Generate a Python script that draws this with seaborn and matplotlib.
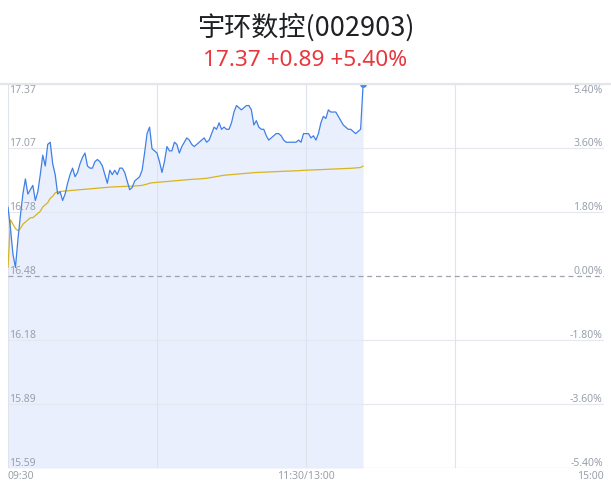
import numpy as np
import pandas as pd
import matplotlib
matplotlib.use("Agg")
import matplotlib.pyplot as plt
import matplotlib.transforms as mtransforms
from matplotlib.lines import Line2D
import seaborn as sns

# ---------------- data ----------------
title_text = "宇环数控(002903)"
subtitle_text = "17.37 +0.89 +5.40%"
prev_close = 16.48
limit_pct = 5.40

price = [
    16.80, 16.70, 16.58, 16.52, 16.65, 16.76, 16.86, 16.93, 16.86, 16.88,
    16.90, 16.83, 16.87, 16.95, 17.04, 16.99, 17.09, 17.10, 17.00, 16.95,
    16.86, 16.87, 16.83, 16.86, 16.91, 16.95, 16.98, 16.94, 16.96, 17.00,
    17.03, 17.05, 16.99, 16.98, 16.98, 17.01, 17.02, 17.01, 16.99, 16.95,
    16.91, 16.97, 16.95, 16.97, 16.95, 16.98, 16.98, 16.96, 16.92, 16.88,
    16.89, 16.92, 16.93, 16.94, 16.97, 17.05, 17.14, 17.17, 17.07, 17.06,
    17.05, 17.01, 16.96, 17.01, 17.08, 17.06, 17.06, 17.10, 17.09, 17.05,
    17.08, 17.10, 17.12, 17.11, 17.09, 17.08, 17.09, 17.10, 17.11, 17.12,
    17.10, 17.11, 17.14, 17.17, 17.16, 17.19, 17.16, 17.17, 17.16, 17.16,
    17.19, 17.24, 17.27, 17.26, 17.25, 17.26, 17.27, 17.27, 17.25, 17.18,
    17.20, 17.17, 17.16, 17.16, 17.13, 17.11, 17.12, 17.13, 17.14, 17.14,
    17.13, 17.11, 17.10, 17.10, 17.10, 17.10, 17.10, 17.11, 17.10, 17.14,
    17.14, 17.14, 17.12, 17.13, 17.11, 17.14, 17.19, 17.22, 17.21, 17.25,
    17.24, 17.24, 17.24, 17.22, 17.20, 17.18, 17.17, 17.16, 17.16, 17.15,
    17.14, 17.15, 17.16, 17.37,
]

avg_price = [
    16.520, 16.740, 16.720, 16.700, 16.690, 16.700, 16.720, 16.730, 16.740, 16.750,
    16.750, 16.760, 16.770, 16.780, 16.800, 16.810, 16.820, 16.840, 16.850, 16.865,
    16.870, 16.872, 16.873, 16.874, 16.875, 16.876, 16.877, 16.878, 16.879, 16.880,
    16.881, 16.882, 16.883, 16.884, 16.885, 16.886, 16.887, 16.888, 16.889, 16.890,
    16.891, 16.892, 16.893, 16.893, 16.894, 16.894, 16.895, 16.895, 16.896, 16.896,
    16.897, 16.897, 16.898, 16.899, 16.900, 16.903, 16.906, 16.910, 16.912, 16.913,
    16.914, 16.915, 16.916, 16.917, 16.918, 16.919, 16.920, 16.921, 16.922, 16.923,
    16.924, 16.925, 16.926, 16.927, 16.928, 16.929, 16.929, 16.930, 16.931, 16.932,
    16.933, 16.935, 16.937, 16.939, 16.941, 16.943, 16.945, 16.947, 16.948, 16.949,
    16.950, 16.951, 16.952, 16.953, 16.954, 16.955, 16.956, 16.957, 16.958, 16.959,
    16.960, 16.960, 16.961, 16.961, 16.962, 16.962, 16.963, 16.963, 16.964, 16.964,
    16.965, 16.965, 16.966, 16.966, 16.967, 16.967, 16.968, 16.968, 16.969, 16.970,
    16.970, 16.971, 16.971, 16.972, 16.972, 16.973, 16.973, 16.974, 16.974, 16.975,
    16.975, 16.976, 16.976, 16.977, 16.977, 16.978, 16.978, 16.979, 16.979, 16.980,
    16.981, 16.982, 16.983, 16.990,
]

total_minutes = 240
x_tick_pos = [0, 120, 240]
x_tick_labels = ["09:30", "11:30/13:00", "15:00"]
grid_x = [0, 60, 120, 180]
pct_levels = [5.40, 3.60, 1.80, 0.00, -1.80, -3.60, -5.40]
price_labels = ["17.37", "17.07", "16.78", "16.48", "16.18", "15.89", "15.59"]
pct_labels = ["5.40%", "3.60%", "1.80%", "0.00%", "-1.80%", "-3.60%", "-5.40%"]

df = pd.DataFrame({"minute": np.arange(len(price)), "price": price, "avg": avg_price})

# ---------------- style ----------------
sns.set_style("white")
plt.rcParams["font.family"] = ["Noto Sans CJK SC", "DejaVu Sans"]

W, H = 611, 492
fig = plt.figure(figsize=(W / 100, H / 100), dpi=100)
ax_left, ax_right, ax_top, ax_bottom = 8, 604, 84, 468
ax = fig.add_axes([ax_left / W, 1 - ax_bottom / H, (ax_right - ax_left) / W, (ax_bottom - ax_top) / H])

ymax = prev_close * (1 + limit_pct / 100)
ymin = prev_close * (1 - limit_pct / 100)
ax.set_xlim(0, total_minutes)
ax.set_ylim(ymin, ymax)

grid_color = "#e6e8ef"
label_color = "#9aa0ab"

# horizontal grid
for p in pct_levels:
    yv = prev_close * (1 + p / 100)
    if abs(p) < 1e-9:
        ax.axhline(yv, color="#9ea3ad", lw=0.9, ls=(0, (4, 3)), zorder=3)
    else:
        ax.axhline(yv, color=grid_color, lw=0.8, zorder=1)
# vertical grid
for gx in grid_x:
    ax.axvline(gx, color="#dfe3ec", lw=0.8, zorder=1)

# area + lines
ax.fill_between(df["minute"], df["price"], ymin, color="#e9effc", lw=0, zorder=0.5)
sns.lineplot(data=df, x="minute", y="avg", ax=ax, color="#d8b51c", lw=0.9, zorder=4)
sns.lineplot(data=df, x="minute", y="price", ax=ax, color="#3f7fe6", lw=0.9, zorder=5)
ax.scatter([df["minute"].iloc[-1]], [df["price"].iloc[-1]], s=24, color="#3d8af7",
           zorder=6, clip_on=True, linewidths=0)

for s in ax.spines.values():
    s.set_visible(False)
ax.set_xticks([])
ax.set_yticks([])
ax.set_xlabel("")
ax.set_ylabel("")

# y labels inside
trans_l = mtransforms.blended_transform_factory(ax.transAxes, ax.transData)
for i, (p, pl, ql) in enumerate(zip(pct_levels, price_labels, pct_labels)):
    yv = prev_close * (1 + p / 100)
    if i == 0:
        va, off = "top", -1.0
    else:
        va, off = "bottom", -0.8
    offset = mtransforms.offset_copy(trans_l, fig=fig, x=0, y=off, units="points")
    ax.text(0.002, yv, pl, transform=offset, ha="left", va=va, fontsize=7.5,
            color=label_color, family=["Noto Sans", "DejaVu Sans"])
    ax.text(0.998, yv, ql, transform=offset, ha="right", va=va, fontsize=7.5,
            color=label_color, family=["Noto Sans", "DejaVu Sans"])

# x labels
trans_x = mtransforms.blended_transform_factory(ax.transData, ax.transAxes)
for xp, xl in zip(x_tick_pos, x_tick_labels):
    ha = "left" if xp == 0 else ("right" if xp == total_minutes else "center")
    ax.text(xp, -0.008, xl, transform=trans_x, ha=ha, va="top", fontsize=7.5,
            color=label_color, family=["Noto Sans", "DejaVu Sans"])

# top separator line
fig.add_artist(Line2D([0, 1], [1 - 83.5 / H, 1 - 83.5 / H], color="#e4e6eb", lw=1.6,
                      transform=fig.transFigure))
# bottom line
ax.axhline(ymin, color=grid_color, lw=0.8, zorder=1)

fig.text(0.5, 1 - 27 / H, title_text, ha="center", va="center", fontsize=19.5,
         color="#1f2023", family=["Noto Sans CJK SC", "DejaVu Sans"])
fig.text(0.5, 1 - 61 / H, subtitle_text, ha="center", va="center", fontsize=16.3,
         color="#e8383d", family=["Noto Sans", "DejaVu Sans"])

fig.savefig("out.png", dpi=100)
